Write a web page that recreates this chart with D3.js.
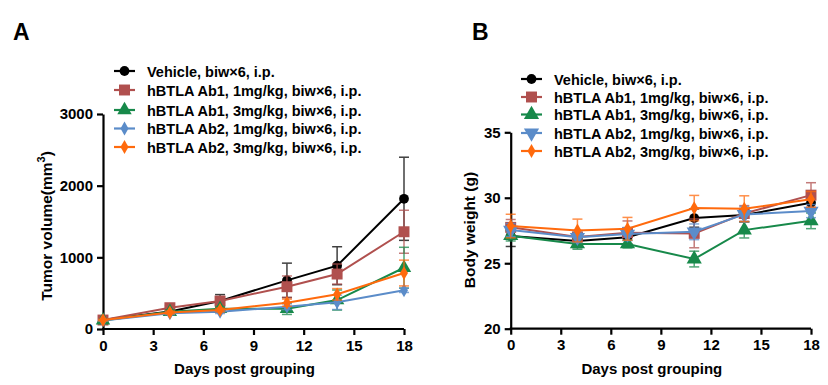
<!DOCTYPE html>
<html>
<head>
	<meta charset="utf-8">
	<title>Tumor volume and body weight</title>
</head>
<style>
	body { margin:0; background:#fff; }
	svg text { font-family:"Liberation Sans", Arial, sans-serif; font-weight:bold; fill:#000; }
</style>
<body>
<script src="https://d3js.org/d3.v7.min.js"></script>
<svg width="828" height="385"></svg>
<script>
	// ---- data ----
	var days = [0, 4, 7, 11, 14, 18];
	var dayTicks = [0, 3, 6, 9, 12, 15, 18];
	var volTicks = [0, 1000, 2000, 3000];
	var bwTicks = [20, 25, 30, 35];
	var groupNames = [
		"Vehicle, biw\u00d76, i.p.",
		"hBTLA Ab1, 1mg/kg, biw\u00d76, i.p.",
		"hBTLA Ab1, 3mg/kg, biw\u00d76, i.p.",
		"hBTLA Ab2, 1mg/kg, biw\u00d76, i.p.",
		"hBTLA Ab2, 3mg/kg, biw\u00d76, i.p."
	];
	var groupColors = ["#000000", "#b0504e", "#17894a", "#5b8cc9", "#ff6a0d"];

	// tumor volume (mm3), mean and sem
	var volVehicle = [125, 245, 390, 679, 883, 1817];
	var volVehicleSem = [15, 30, 90, 240, 265, 580];
	var volAb1Low = [125, 297, 390, 590, 767, 1357];
	var volAb1LowSem = [15, 30, 60, 150, 140, 300];
	var volAb1High = [120, 241, 283, 283, 404, 855];
	var volAb1HighSem = [10, 25, 30, 80, 140, 285];
	var volAb2Low = [120, 219, 241, 311, 372, 540];
	var volAb2LowSem = [10, 20, 25, 40, 100, 30];
	var volAb2High = [125, 230, 265, 367, 484, 781];
	var volAb2HighSem = [10, 20, 25, 50, 80, 180];

	// body weight (g), mean and sem
	var bwVehicle = [27.08, 26.7, 26.98, 28.45, 28.68, 29.62];
	var bwVehicleSem = [0.8, 0.5, 0.5, 0.7, 0.5, 0.5];
	var bwAb1Low = [27.74, 27.0, 27.33, 27.28, 28.8, 30.2];
	var bwAb1LowSem = [0.6, 0.5, 0.9, 1.1, 0.6, 0.95];
	var bwAb1High = [27.1, 26.47, 26.47, 25.32, 27.53, 28.24];
	var bwAb1HighSem = [0.4, 0.4, 0.3, 0.6, 0.6, 0.6];
	var bwAb2Low = [27.53, 26.98, 27.23, 27.4, 28.73, 28.98];
	var bwAb2LowSem = [0.5, 0.4, 0.5, 0.6, 0.6, 0.5];
	var bwAb2High = [27.84, 27.5, 27.63, 29.21, 29.16, 29.88];
	var bwAb2HighSem = [0.9, 0.87, 0.87, 0.97, 0.99, 0.6];

	var volMeans = [volVehicle, volAb1Low, volAb1High, volAb2Low, volAb2High];
	var volSems = [volVehicleSem, volAb1LowSem, volAb1HighSem, volAb2LowSem, volAb2HighSem];
	var bwMeans = [bwVehicle, bwAb1Low, bwAb1High, bwAb2Low, bwAb2High];
	var bwSems = [bwVehicleSem, bwAb1LowSem, bwAb1HighSem, bwAb2LowSem, bwAb2HighSem];

	var svg = d3.select("svg");

	var symA = [d3.symbolCircle, d3.symbolSquare, d3.symbolTriangle, d3.symbolDiamond, d3.symbolDiamond];
	var symB = [d3.symbolCircle, d3.symbolSquare, d3.symbolTriangle, "down", d3.symbolDiamond];
	var symSizeA = [75, 120, 90, 55, 55];
	var symSizeB = [75, 120, 100, 100, 55];

	function marker(sel, type, size, color) {
		var t = type === "down" ? d3.symbolTriangle : type;
		sel.append("path")
			.attr("d", d3.symbol().type(t).size(size)())
			.attr("transform", type === "down" ? "rotate(180)" : null)
			.attr("fill", color);
	}

	function panel(opt) {
		var x = d3.scaleLinear().domain([0, 18]).range(opt.xr);
		var y = d3.scaleLinear().domain(opt.yd).range(opt.yr);
		var g = svg.append("g");

		var ax = g.append("g")
			.attr("transform", "translate(0," + opt.yr[0] + ")")
			.call(d3.axisBottom(x).tickValues(dayTicks).tickSize(6).tickSizeOuter(0).tickPadding(5));
		var ay = g.append("g")
			.attr("transform", "translate(" + opt.xr[0] + ",0)")
			.call(d3.axisLeft(y).tickValues(opt.ticks).tickFormat(d3.format("d")).tickSize(6).tickSizeOuter(0).tickPadding(4));
		[ax, ay].forEach(function(a){
			a.selectAll("path,line").attr("stroke", "#000").attr("stroke-width", 2.2);
			a.selectAll("text").style("font-size", "15px");
		});
		ax.select(".domain").attr("d", "M" + (opt.xr[0] - 1) + ",0H" + opt.xr[1]);

		g.append("text")
			.attr("x", (opt.xr[0] + opt.xr[1]) / 2 - 9)
			.attr("y", 374)
			.attr("text-anchor", "middle")
			.style("font-size", "15px")
			.text("Days post grouping");

		var yt = g.append("text")
			.attr("transform", "translate(" + opt.ytx + "," + opt.yty + ") rotate(-90)")
			.attr("text-anchor", "middle")
			.style("font-size", "15.5px");
		yt.append("tspan").text(opt.ytitle);
		if (opt.sup) {
			yt.append("tspan").attr("dy", -7).style("font-size", "11px").text(opt.sup);
			yt.append("tspan").attr("dy", 7).text(")");
		}

		g.append("text")
			.attr("x", opt.labelX).attr("y", 40)
			.style("font-size", "23px")
			.text(opt.label);

		var line = d3.line()
			.x(function(d, i){ return x(days[i]); })
			.y(function(d){ return y(d); });

		opt.means.forEach(function(m, k){
			var c = groupColors[k];
			var s = opt.sems[k];
			var sg = g.append("g");
			// error bars
			m.forEach(function(v, i){
				var cx = x(days[i]);
				var eg = sg.append("g").attr("stroke", c).attr("stroke-width", 1.5).attr("opacity", 0.75);
				eg.append("line").attr("x1", cx).attr("x2", cx).attr("y1", y(v - s[i])).attr("y2", y(v + s[i]));
				eg.append("line").attr("x1", cx - 5).attr("x2", cx + 5).attr("y1", y(v + s[i])).attr("y2", y(v + s[i]));
				eg.append("line").attr("x1", cx - 5).attr("x2", cx + 5).attr("y1", y(v - s[i])).attr("y2", y(v - s[i]));
			});
			sg.append("path")
				.attr("d", line(m))
				.attr("fill", "none")
				.attr("stroke", c)
				.attr("stroke-width", 2);
			m.forEach(function(v, i){
				var mg = sg.append("g").attr("transform", "translate(" + x(days[i]) + "," + y(v) + ")");
				marker(mg, opt.syms[k], opt.sizes[k], c);
			});
		});

		// legend
		var leg = g.append("g");
		groupNames.forEach(function(name, k){
			var ly = opt.legY[k];
			var row = leg.append("g").attr("transform", "translate(" + opt.legX + "," + ly + ")");
			row.append("line").attr("x1", 0).attr("x2", 21).attr("stroke", groupColors[k]).attr("stroke-width", 2.2);
			var mg = row.append("g").attr("transform", "translate(10.5,0)");
			marker(mg, opt.syms[k], opt.sizes[k], groupColors[k]);
			row.append("text").attr("x", opt.legTextDx).attr("y", 5.5)
				.style("font-size", "14.5px")
				.text(name);
		});
	}

	panel({
		xr: [103, 404], yd: [0, 3000], yr: [329, 114], ticks: volTicks,
		means: volMeans, sems: volSems, syms: symA, sizes: symSizeA,
		ytitle: "Tumor volume(mm", sup: "3", ytx: 52, yty: 226,
		label: "A", labelX: 13,
		legX: 114, legTextDx: 33, legY: [71, 90, 110, 128.5, 147]
	});

	panel({
		xr: [510.7, 811], yd: [20, 35], yr: [328.7, 132.3], ticks: bwTicks,
		means: bwMeans, sems: bwSems, syms: symB, sizes: symSizeB,
		ytitle: "Body weight (g)", ytx: 475, yty: 230,
		label: "B", labelX: 472,
		legX: 521, legTextDx: 33, legY: [79, 97, 114.5, 133, 151]
	});
</script>
</body>
</html>
